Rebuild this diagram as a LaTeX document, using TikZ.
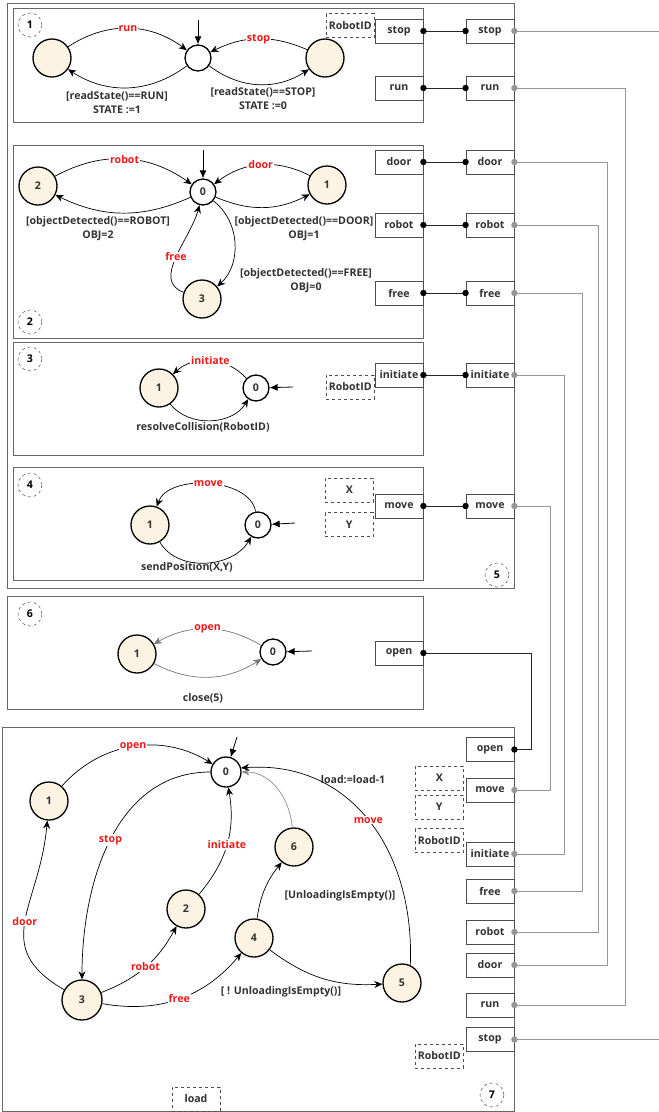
\documentclass[tikz,border=0pt]{standalone}
\usepackage{fontspec}
\setmainfont{Open Sans}
\usetikzlibrary{arrows.meta, positioning}

\definecolor{statefill}{RGB}{252,243,226}
\definecolor{ink}{RGB}{50,50,50}
\definecolor{evtred}{RGB}{240,25,25}
\definecolor{wiregray}{RGB}{150,150,150}
\newcommand{\lblfont}{\fontsize{10.6}{14}\selectfont\bfseries}

\tikzset{
    frame/.style={draw=black!60, line width=0.9pt},
    state/.style={
        circle, draw=black, line width=1.3pt,
        minimum size=38pt, inner sep=0pt,
        fill=statefill, font=\lblfont, text=ink
    },
    idle/.style={state, fill=white, minimum size=26pt},
    tag/.style={
        circle, draw=black!70, dashed, line width=0.5pt,
        minimum size=24pt, inner sep=0pt, font=\lblfont
    },
    port/.style={
        rectangle, draw=black!70, line width=0.8pt,
        minimum width=48pt, minimum height=24pt, inner sep=0pt,
        fill=white, font=\lblfont, text=ink
    },
    param/.style={port, dashed, line width=0.6pt},
    trans/.style={draw=black, line width=0.7pt, -{Stealth[length=8pt, width=7pt, inset=2.5pt]}},
    start/.style={draw=black, line width=0.8pt, -{Latex[length=8pt, width=7pt]}},
    event/.style={font=\lblfont, text=evtred, fill=white, inner sep=1pt},
    guard/.style={font=\lblfont, text=ink, align=center, inner sep=1pt},
    link/.style={draw=black!85, line width=0.8pt},
    glink/.style={draw=wiregray, line width=1pt}
}

\begin{document}
\begin{tikzpicture}[x=1pt, y=1pt]
\useasboundingbox (0,0) rectangle (659,-1112);

% Frames
\draw[frame] (7,-3) rectangle (514,-588);
\draw[frame] (13,-8) rectangle (423,-122);
\draw[frame] (13,-145) rectangle (423,-338);
\draw[frame] (13,-342) rectangle (423,-455);
\draw[frame] (13,-467) rectangle (423,-580);
\draw[frame] (7,-596) rectangle (423,-709);
\draw[frame] (2,-727) rectangle (514,-1111);

% Frame tags
\node[tag] (tag1) at (30,-25) {1};
\node[tag] (tag2) at (30,-322) {2};
\node[tag] (tag3) at (30,-359) {3};
\node[tag] (tag4) at (30,-485) {4};
\node[tag] (tag5) at (497,-575) {5};
\node[tag] (tag6) at (30,-614) {6};
\node[tag] (tag7) at (492,-1095) {7};

% Mode machine (1)
\node[state] (modeRun) at (52,-58) {};
\node[idle] (mode0) at (198,-58) {};
\node[state] (modeStop) at (325,-58) {};
\coordinate (mode0in) at (198,-20);
\draw[start] (mode0in) -- (mode0);
\draw[trans] (modeRun) to[bend left=35] node[event] {run} (mode0);
\draw[trans] (mode0) to[bend left=35] (modeRun);
\draw[trans] (modeStop) to[bend right=25] node[event] {stop} (mode0);
\draw[trans] (mode0) to[bend right=35] (modeStop);
\node[guard] (modeG1) at (117,-103) {[readState()==RUN]\\STATE :=1};
\node[guard] (modeG0) at (263,-99) {[readState()==STOP]\\STATE :=0};

% Object detection (2)
\node[idle] (obj0) at (203,-192) {0};
\node[state] (obj1) at (327,-185) {1};
\node[state] (obj2) at (38,-186) {2};
\node[state] (obj3) at (202,-299) {3};
\coordinate (obj0in) at (203,-150);
\draw[start] (obj0in) -- (obj0);
\draw[trans] (obj2) to[bend left=32] node[event] {robot} (obj0);
\draw[trans] (obj0) to[bend left=25] (obj2);
\draw[trans] (obj1) to[bend right=32] node[event] {door} (obj0);
\draw[trans] (obj0) to[bend right=25] (obj1);
\draw[trans] (obj0) to[bend left=50] (obj3);
\draw[trans] (obj3) to[out=160, in=-105] node[event] {free} (obj0);
\node[guard] (objG2) at (98,-229) {[objectDetected()==ROBOT]\\OBJ=2};
\node[guard] (objG1) at (304,-229) {[objectDetected()==DOOR]\\OBJ=1};
\node[guard] (objG0) at (306,-281) {[objectDetected()==FREE]\\OBJ=0};

% Collision (3)
\node[state] (col1) at (159,-388) {1};
\node[idle] (col0) at (256,-388) {0};
\coordinate (col0in) at (293,-387);
\draw[start] (col0in) -- (col0);
\draw[trans] (col0) to[bend right=45] node[event] {initiate} (col1);
\draw[trans] (col1) to[bend right=55] (col0);
\node[guard] (colG) at (203,-427) {resolveCollision(RobotID)};

% Position (4)
\node[state] (pos1) at (150,-525) {1};
\node[idle] (pos0) at (258,-525) {0};
\coordinate (pos0in) at (295,-523);
\draw[start] (pos0in) -- (pos0);
\draw[trans] (pos0) to[out=100, in=70, looseness=0.9] node[event] {move} (pos1);
\draw[trans] (pos1) to[out=-60, in=-120] (pos0);
\node[guard] (posG) at (187,-567) {sendPosition(X,Y)};

% Gate (6)
\node[state] (gate1) at (137,-654) {1};
\node[idle] (gate0) at (273,-652) {0};
\coordinate (gate0in) at (312,-651);
\draw[start] (gate0in) -- (gate0);
\draw[trans, draw=black!55] (gate0) to[bend right=30] node[event] {open} (gate1);
\draw[trans, draw=black!55] (gate1) to[bend right=30] (gate0);
\node[guard] (gateG) at (203,-698) {close(5)};

% Robot (7)
\node[idle, minimum size=30pt] (rob0) at (226,-772) {0};
\node[state] (rob1) at (49,-801) {1};
\node[state] (rob2) at (186,-909) {2};
\node[state, minimum size=40pt] (rob3) at (82,-1000) {3};
\node[state] (rob4) at (254,-938) {4};
\node[state] (rob5) at (402,-983) {5};
\node[state] (rob6) at (294,-847) {6};
\coordinate (rob0in) at (237,-737);
\draw[start] (rob0in) -- (rob0);
\draw[trans] (rob1) to[bend left=40] node[event] {open} (rob0);
\draw[trans] (rob0) to[out=180, in=90] node[event] {stop} (rob3);
\draw[trans] (rob3) to[out=150, in=-95, looseness=1.3] node[event] {door} (rob1);
\draw[trans] (rob3) to[bend right=20] node[event] {robot} (rob2);
\draw[trans] (rob2) to[bend right=25] node[event] {initiate} (rob0);
\draw[trans] (rob3) to[bend right=30] node[event] {free} (rob4);
\draw[trans] (rob4) to[bend left=15] (rob6);
\draw[trans, draw=black!45] (rob6) to[out=95, in=0] (rob0);
\draw[trans] (rob4) to[bend right=20] (rob5);
\draw[trans] (rob5.65) .. controls (415,-850) and (350,-760) .. node[event] {move} (rob0.15);
\node[guard] (robG6) at (340,-896) {[UnloadingIsEmpty()]};
\node[guard] (robG5) at (281,-992) {[ ! UnloadingIsEmpty()]};
\node[guard] (robLoad) at (353,-780) {load:=load-1};

% Ports of the inner machines
\foreach \nm/\y in {stop/31, run/88, door/162, robot/225, free/293, initiate/375, move/506, open/653}
    \node[port] (\nm A) at (399,-\y) {\nm};
% Ports of frame 5
\foreach \nm/\y in {stop/31, run/88, door/162, robot/225, free/293, initiate/375, move/506}
    \node[port] (\nm B) at (490,-\y) {\nm};
% Ports of frame 7
\foreach \nm/\y in {open/749.5, move/790, initiate/854, free/891, robot/932, door/965, run/1005, stop/1039.5}
    \node[port] (\nm C) at (490,-\y) {\nm};

% Parameters
\node[param, left=0pt of stopA, yshift=5.5pt] (idStop) {RobotID};
\node[param, left=0pt of initiateA, yshift=-12pt] (idInit) {RobotID};
\node[param, left=1pt of moveA, yshift=16pt] (xMove) {X};
\node[param, left=1pt of moveA, yshift=-18.5pt] (yMove) {Y};
\node[param, left=2pt of moveC, yshift=12pt] (xRob) {X};
\node[param, left=2pt of moveC, yshift=-17pt] (yRob) {Y};
\node[param, left=2pt of initiateC, yshift=13.5pt] (idRob) {RobotID};
\node[param, left=2pt of stopC, yshift=-16.5pt] (idRobStop) {RobotID};
\node[param] (loadVar) at (196,-1099) {load};

% Inner to frame-5 links
\foreach \nm in {stop, run, door, robot, free, initiate, move} {
    \draw[link] (\nm A.east) -- (\nm B.west);
    \fill (\nm A.east) circle (3.2);
    \fill (\nm B.west) circle (3.2);
}

% Frame-5 to frame-7 wires
\foreach \nm/\x in {move/36, initiate/50, free/68, robot/84, door/93, run/111} {
    \draw[glink] (\nm B.east) -- ++(\x,0) |- (\nm C.east);
    \fill[wiregray] (\nm B.east) circle (3.2);
    \fill[wiregray] (\nm C.east) circle (3.2);
}
\coordinate (stopExitB) at (659,-31);
\coordinate (stopExitC) at (659,-1039.5);
\draw[glink] (stopB.east) -- (stopExitB);
\draw[glink] (stopC.east) -- (stopExitC);
\fill[wiregray] (stopB.east) circle (3.2);
\fill[wiregray] (stopC.east) circle (3.2);

% Gate link
\draw[link] (openA.east) -- ++(108,0) |- (openC.east);
\fill (openA.east) circle (3.2);
\fill (openC.east) circle (3.2);

\end{tikzpicture}
\end{document}
